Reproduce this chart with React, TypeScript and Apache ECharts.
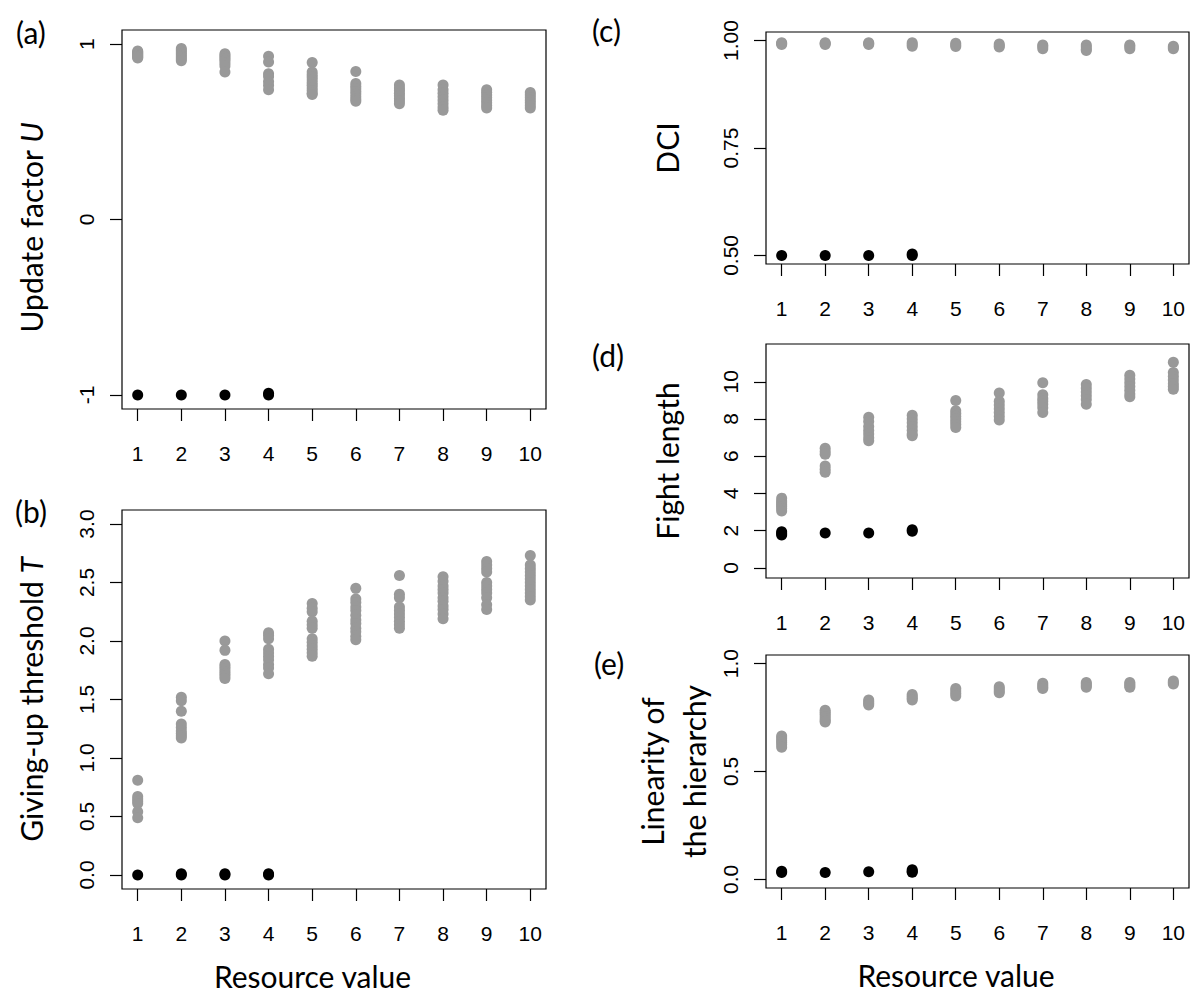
import React, { useEffect, useRef } from "react";
import * as echarts from "echarts";

// ---------- data ----------
const resources = [1, 2, 3, 4, 5, 6, 7, 8, 9, 10];

// (a) Update factor U
const updateGray: number[][] = [
  [0.96, 0.955, 0.95, 0.945, 0.94, 0.935, 0.93, 0.925, 0.92],
  [0.975, 0.965, 0.955, 0.945, 0.935, 0.925, 0.915, 0.905],
  [0.945, 0.935, 0.925, 0.915, 0.905, 0.89, 0.875, 0.84],
  [0.93, 0.897, 0.83, 0.815, 0.787, 0.765, 0.739],
  [0.895, 0.84, 0.825, 0.81, 0.795, 0.78, 0.765, 0.75, 0.735, 0.72, 0.712],
  [0.844, 0.775, 0.76, 0.745, 0.73, 0.715, 0.7, 0.685, 0.674],
  [0.766, 0.75, 0.735, 0.72, 0.705, 0.69, 0.675, 0.66],
  [0.766, 0.74, 0.72, 0.7, 0.68, 0.66, 0.64, 0.622],
  [0.74, 0.725, 0.71, 0.695, 0.68, 0.665, 0.65, 0.636],
  [0.724, 0.71, 0.695, 0.68, 0.665, 0.65, 0.636],
];
const updateBlack: number[][] = [[-1.0], [-1.0], [-1.0], [-1.0, -0.99]];

// (b) Giving-up threshold T
const thresholdGray: number[][] = [
  [0.81, 0.67, 0.65, 0.63, 0.61, 0.54, 0.49],
  [1.52, 1.49, 1.4, 1.29, 1.26, 1.23, 1.21, 1.19, 1.17],
  [2.0, 1.92, 1.8, 1.78, 1.76, 1.74, 1.72, 1.7, 1.68],
  [2.07, 2.05, 2.02, 1.93, 1.9, 1.87, 1.84, 1.8, 1.77, 1.72],
  [2.32, 2.28, 2.25, 2.17, 2.14, 2.11, 2.02, 1.99, 1.96, 1.93, 1.9, 1.87],
  [2.45, 2.36, 2.33, 2.29, 2.26, 2.22, 2.18, 2.15, 2.11, 2.08, 2.04, 2.01],
  [2.56, 2.4, 2.37, 2.29, 2.26, 2.23, 2.2, 2.17, 2.14, 2.11],
  [2.55, 2.51, 2.47, 2.44, 2.41, 2.37, 2.34, 2.3, 2.27, 2.23, 2.19],
  [2.68, 2.65, 2.62, 2.59, 2.5, 2.47, 2.44, 2.41, 2.37, 2.31, 2.27],
  [2.73, 2.65, 2.62, 2.59, 2.56, 2.53, 2.5, 2.47, 2.44, 2.41, 2.38, 2.35],
];
const thresholdBlack: number[][] = [[0.0], [0.0, 0.01], [0.0, 0.01], [0.0, 0.01]];

// (c) DCI
const dciGray: number[][] = [
  [0.995, 0.993, 0.991],
  [0.995, 0.993, 0.991],
  [0.995, 0.993, 0.991],
  [0.995, 0.991, 0.987],
  [0.994, 0.99, 0.986],
  [0.992, 0.988, 0.985],
  [0.99, 0.986, 0.981],
  [0.99, 0.985, 0.98, 0.977],
  [0.99, 0.986, 0.981],
  [0.987, 0.984, 0.981],
];
const dciBlack: number[][] = [[0.5], [0.5], [0.5], [0.5, 0.503]];

// (d) Fight length
const fightGray: number[][] = [
  [3.75, 3.6, 3.5, 3.4, 3.3, 3.2, 3.06],
  [6.43, 6.25, 6.11, 5.47, 5.3, 5.14],
  [8.1, 7.87, 7.6, 7.38, 7.2, 7.0, 6.83],
  [8.2, 8.0, 7.8, 7.6, 7.4, 7.2, 7.1],
  [9.0, 8.45, 8.3, 8.15, 8.0, 7.85, 7.7, 7.55],
  [9.4, 8.95, 8.75, 8.55, 8.35, 8.15, 7.95],
  [9.95, 9.3, 9.1, 8.95, 8.8, 8.6, 8.35],
  [9.85, 9.65, 9.45, 9.25, 9.05, 8.8],
  [10.35, 10.15, 9.95, 9.75, 9.55, 9.35, 9.2],
  [11.05, 10.5, 10.3, 10.1, 9.9, 9.75, 9.6],
];
const fightBlack: number[][] = [[1.95, 1.85, 1.77], [1.88], [1.88], [2.05, 1.97]];

// (e) Linearity of the hierarchy
const linearityGray: number[][] = [
  [0.665, 0.655, 0.645, 0.635, 0.625, 0.612],
  [0.784, 0.775, 0.765, 0.755, 0.745, 0.735, 0.73],
  [0.831, 0.823, 0.815, 0.808],
  [0.857, 0.848, 0.84, 0.831],
  [0.885, 0.873, 0.862, 0.85],
  [0.893, 0.883, 0.873, 0.865],
  [0.909, 0.9, 0.892, 0.885],
  [0.913, 0.905, 0.898, 0.891],
  [0.913, 0.905, 0.898, 0.891],
  [0.92, 0.913, 0.906],
];
const linearityBlack: number[][] = [[0.038, 0.032], [0.032], [0.035], [0.045, 0.038, 0.033]];

// tick values
const updateTicks = [-1, 0, 1];
const thresholdTicks = [0, 0.5, 1, 1.5, 2, 2.5, 3];
const dciTicks = [0.5, 0.75, 1];
const fightTicks = [0, 2, 4, 6, 8, 10];
const linearityTicks = [0, 0.5, 1];

// ---------- layout / style ----------
const GRAY = "#999999";
const TICK_FONT = "'Liberation Sans', Arial, sans-serif";
const TITLE_FONT = "Lato, 'Open Sans', sans-serif";

const panels = [
  {
    tag: "(a)", tagLeft: 16, tagTop: 17,
    grid: { left: 122, top: 30, width: 424, height: 379 },
    yMin: -1.08, yMax: 1.08, ticks: updateTicks, dec: 0,
    gray: updateGray, black: updateBlack,
    yName: "Update factor {i|U}", yGap: 70, yPad: [0, 16, 0, 0], xName: "",
  },
  {
    tag: "(b)", tagLeft: 15, tagTop: 496,
    grid: { left: 122, top: 510, width: 424, height: 379 },
    yMin: -0.12, yMax: 3.12, ticks: thresholdTicks, dec: 1,
    gray: thresholdGray, black: thresholdBlack,
    yName: "Giving-up threshold {i|T}", yGap: 70, yPad: [0, 0, 0, 0], xName: "Resource value",
  },
  {
    tag: "(c)", tagLeft: 592, tagTop: 15,
    grid: { left: 766, top: 32, width: 423, height: 232 },
    yMin: 0.48, yMax: 1.02, ticks: dciTicks, dec: 2,
    gray: dciGray, black: dciBlack,
    yName: "DCI", yGap: 78, yPad: [0, 0, 0, 0], xName: "",
  },
  {
    tag: "(d)", tagLeft: 592, tagTop: 340,
    grid: { left: 766, top: 344, width: 423, height: 234 },
    yMin: -0.54, yMax: 12.03, ticks: fightTicks, dec: 0,
    gray: fightGray, black: fightBlack,
    yName: "Fight length", yGap: 78, yPad: [0, 0, 0, 0], xName: "",
  },
  {
    tag: "(e)", tagLeft: 594, tagTop: 648,
    grid: { left: 766, top: 655, width: 423, height: 233 },
    yMin: -0.04, yMax: 1.04, ticks: linearityTicks, dec: 1,
    gray: linearityGray, black: linearityBlack,
    yName: "Linearity of\nthe hierarchy", yGap: 51, yPad: [0, 0, 0, 0], xName: "Resource value",
  },
];

function toPoints(groups: number[][]): number[][] {
  const out: number[][] = [];
  groups.forEach((g, i) => g.forEach((v) => out.push([resources[i], v])));
  return out;
}

function buildOption(): any {
  const grid = panels.map((p) => ({
    ...p.grid,
    show: true,
    borderColor: "#000",
    borderWidth: 1.2,
    backgroundColor: "transparent",
    containLabel: false,
  }));

  const xAxis = panels.map((p, i) => ({
    type: "value",
    gridIndex: i,
    position: "bottom",
    min: 0.64,
    max: 10.36,
    axisLine: { show: false, onZero: false },
    splitLine: { show: false },
    axisTick: {
      show: true,
      length: 12,
      customValues: resources,
      lineStyle: { color: "#000", width: 1.2 },
    },
    axisLabel: {
      show: true,
      customValues: resources,
      margin: 34,
      fontSize: 21,
      fontFamily: TICK_FONT,
      color: "#000",
    },
    name: p.xName,
    nameLocation: "middle",
    nameGap: 72,
    nameTextStyle: {
      fontFamily: TITLE_FONT,
      fontSize: 30,
      color: "#000",
      padding: [0, 43, 0, 0],
    },
  }));

  const yAxis = panels.map((p, i) => ({
    type: "value",
    gridIndex: i,
    position: "left",
    min: p.yMin,
    max: p.yMax,
    axisLine: { show: false, onZero: false },
    splitLine: { show: false },
    axisTick: {
      show: true,
      length: 12,
      customValues: p.ticks,
      lineStyle: { color: "#000", width: 1.2 },
    },
    axisLabel: {
      show: true,
      customValues: p.ticks,
      rotate: 90,
      margin: 25,
      fontSize: 21,
      fontFamily: TICK_FONT,
      color: "#000",
      formatter: (v: number) => v.toFixed(p.dec),
    },
    name: p.yName,
    nameLocation: "middle",
    nameRotate: 90,
    nameGap: p.yGap,
    nameTextStyle: {
      fontFamily: TITLE_FONT,
      fontSize: 30,
      lineHeight: 42,
      color: "#000",
      padding: p.yPad,
      rich: {
        i: { fontFamily: TITLE_FONT, fontSize: 30, fontStyle: "italic", color: "#000" },
      },
    },
  }));

  const series: any[] = [];
  panels.forEach((p, i) => {
    series.push({
      type: "scatter",
      xAxisIndex: i,
      yAxisIndex: i,
      symbol: "circle",
      symbolSize: 11,
      itemStyle: { color: GRAY, opacity: 1 },
      silent: true,
      data: toPoints(p.gray),
    });
    series.push({
      type: "scatter",
      xAxisIndex: i,
      yAxisIndex: i,
      symbol: "circle",
      symbolSize: 11,
      itemStyle: { color: "#000", opacity: 1 },
      silent: true,
      data: toPoints(p.black),
    });
  });

  const title = panels.map((p) => ({
    text: p.tag,
    left: p.tagLeft,
    top: p.tagTop,
    padding: 0,
    textStyle: { fontFamily: TITLE_FONT, fontSize: 30, fontWeight: "normal", color: "#000" },
  }));

  return {
    animation: false,
    backgroundColor: "#fff",
    title,
    grid,
    xAxis,
    yAxis,
    series,
  };
}

export default function App() {
  const ref = useRef<HTMLDivElement>(null);
  useEffect(() => {
    if (!ref.current) return;
    const chart = echarts.init(ref.current, undefined, { renderer: "svg" });
    chart.setOption(buildOption());
    return () => chart.dispose();
  }, []);
  return (
    <div
      ref={ref}
      style={{ position: "absolute", left: 0, top: 0, width: 1200, height: 1000, background: "#fff" }}
    />
  );
}
